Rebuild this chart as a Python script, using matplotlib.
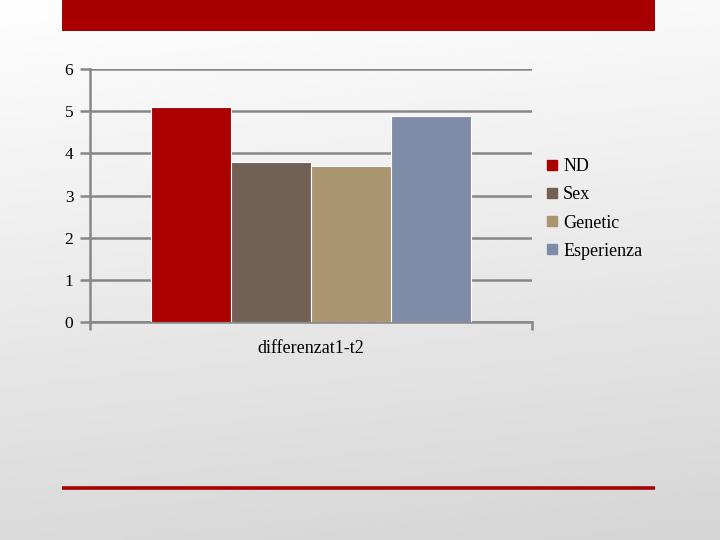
import numpy as np
import matplotlib.pyplot as plt
from matplotlib.patches import Rectangle
from matplotlib.lines import Line2D

# data
series = ['ND', 'Sex', 'Genetic', 'Esperienza']
values = [5.1, 3.79, 3.70, 4.88]
colors = ['#aa0000', '#726055', '#ab9470', '#7f8ca8']
category = 'differenzat1-t2'
yticks = [0, 1, 2, 3, 4, 5, 6]

plt.rcParams['font.family'] = ['Liberation Serif', 'DejaVu Serif']

fig = plt.figure(figsize=(7.2, 5.4), dpi=100)

# slide background: light gradient, whiter at the top
bg = fig.add_axes([0, 0, 1, 1], zorder=-10)
yy = np.linspace(0, 1, 200)[:, None]
xx = np.linspace(0, 1, 200)[None, :]
grad = 0.995 - 0.14 * yy - 0.02 * xx
bg.imshow(grad, cmap='gray', vmin=0, vmax=1, aspect='auto', extent=[0, 1, 1, 0])
bg.set_xlim(0, 1)
bg.set_ylim(1, 0)
bg.axis('off')

# red title band and bottom rule
bg.add_patch(Rectangle((62 / 720, 0), (655 - 62) / 720, 30.5 / 540, color='#a80000', lw=0))
bg.plot([62 / 720, 655 / 720], [487.5 / 540, 487.5 / 540], color='#a80000', lw=2.6, solid_capstyle='butt')

ax = fig.add_axes([90 / 720, 1 - 322 / 540, (532 - 90) / 720, (322 - 69) / 540])
ax.patch.set_alpha(0)

n = len(series)
group = 0.724
w = group / n
x0 = -group / 2 + w / 2
for i, (s, v, c) in enumerate(zip(series, values, colors)):
    ax.bar(x0 + i * w, v, width=w, color=c, edgecolor='white', linewidth=0.8, zorder=3, label=s)

ax.set_xlim(-0.5, 0.5)
ax.set_ylim(0, 6)
ax.set_yticks(yticks)
ax.yaxis.grid(True, color='#878787', lw=1.8, zorder=0)
ax.set_axisbelow(True)
ax.tick_params(axis='y', length=7, width=1.8, color='#878787', labelsize=12.5, pad=5)
ax.set_xticks([-0.5, 0.5])
ax.set_xticklabels(['', ''])
ax.tick_params(axis='x', length=6, width=1.8, color='#878787', direction='out')
for sp in ['top', 'right']:
    ax.spines[sp].set_visible(False)
for sp in ['left', 'bottom']:
    ax.spines[sp].set_color('#878787')
    ax.spines[sp].set_linewidth(1.8)
ax.text(0, -0.62, category, ha='center', va='center', fontsize=13, transform=ax.transData)

handles = [Line2D([], [], marker='s', ls='', color=c, markersize=7) for c in colors]
fig.legend(handles, series, loc='upper left', bbox_to_anchor=(536 / 720, 1 - 151 / 540),
           frameon=False, fontsize=13, handletextpad=0.1, labelspacing=0.62,
           handlelength=1.0, borderaxespad=0)

fig.savefig('out.png', dpi=100)
